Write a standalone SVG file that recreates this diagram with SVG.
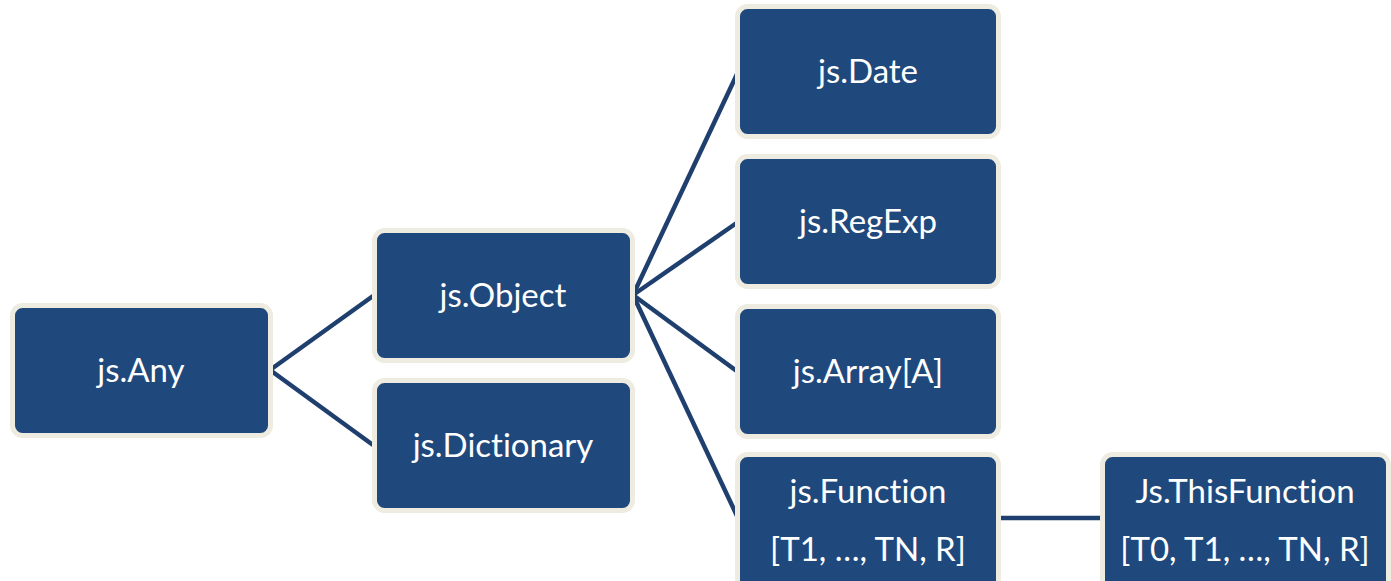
<svg xmlns="http://www.w3.org/2000/svg" width="1391" height="581" viewBox="0 0 1391 581">
<style>
.box{fill:#1F497D;stroke:#EEEBE0;stroke-width:5}
.t{fill:#FFFFFF;font-family:Lato,"Open Sans",sans-serif;font-size:33px;text-anchor:middle;font-variant-ligatures:none}
.c{stroke:#1F3F6E;stroke-width:4.5;fill:none}
</style>
<rect width="1391" height="581" fill="#FFFFFF"/>
<g id="connectors">
<line class="c" x1="270" y1="370" x2="373" y2="296"/>
<line class="c" x1="270" y1="370" x2="373" y2="445"/>
<line class="c" x1="633" y1="295" x2="738" y2="72"/>
<line class="c" x1="633" y1="295" x2="738" y2="222"/>
<line class="c" x1="633" y1="295" x2="738" y2="372"/>
<line class="c" x1="633" y1="295" x2="738" y2="518"/>
<line class="c" x1="998" y1="518" x2="1103" y2="518"/>
</g>
<g id="any"><rect class="box" x="12.5" y="305.5" width="258" height="130" rx="10"/><text class="t" x="141" y="382">js.Any</text></g>
<g id="object"><rect class="box" x="374.5" y="230.5" width="258" height="130" rx="10"/><text class="t" x="503" y="307">js.Object</text></g>
<g id="dictionary"><rect class="box" x="374.5" y="380.5" width="258" height="130" rx="10"/><text class="t" x="503" y="457">js.Dictionary</text></g>
<g id="date"><rect class="box" x="737.5" y="6.5" width="261" height="130" rx="10"/><text class="t" x="868" y="83">js.Date</text></g>
<g id="regexp"><rect class="box" x="737.5" y="156.5" width="261" height="130" rx="10"/><text class="t" x="868" y="233">js.RegExp</text></g>
<g id="array"><rect class="box" x="737.5" y="306.5" width="261" height="130" rx="10"/><text class="t" x="868" y="383">js.Array[A]</text></g>
<g id="function"><rect class="box" x="737.5" y="454.5" width="261" height="140" rx="10"/><text class="t" x="868" y="503">js.Function</text><text class="t" x="868" y="561">[T1, …, TN, R]</text></g>
<g id="thisfunction"><rect class="box" x="1102.5" y="454.5" width="286" height="140" rx="10"/><text class="t" x="1245" y="503">Js.ThisFunction</text><text class="t" x="1245" y="561">[T0, T1, …, TN, R]</text></g>
</svg>
